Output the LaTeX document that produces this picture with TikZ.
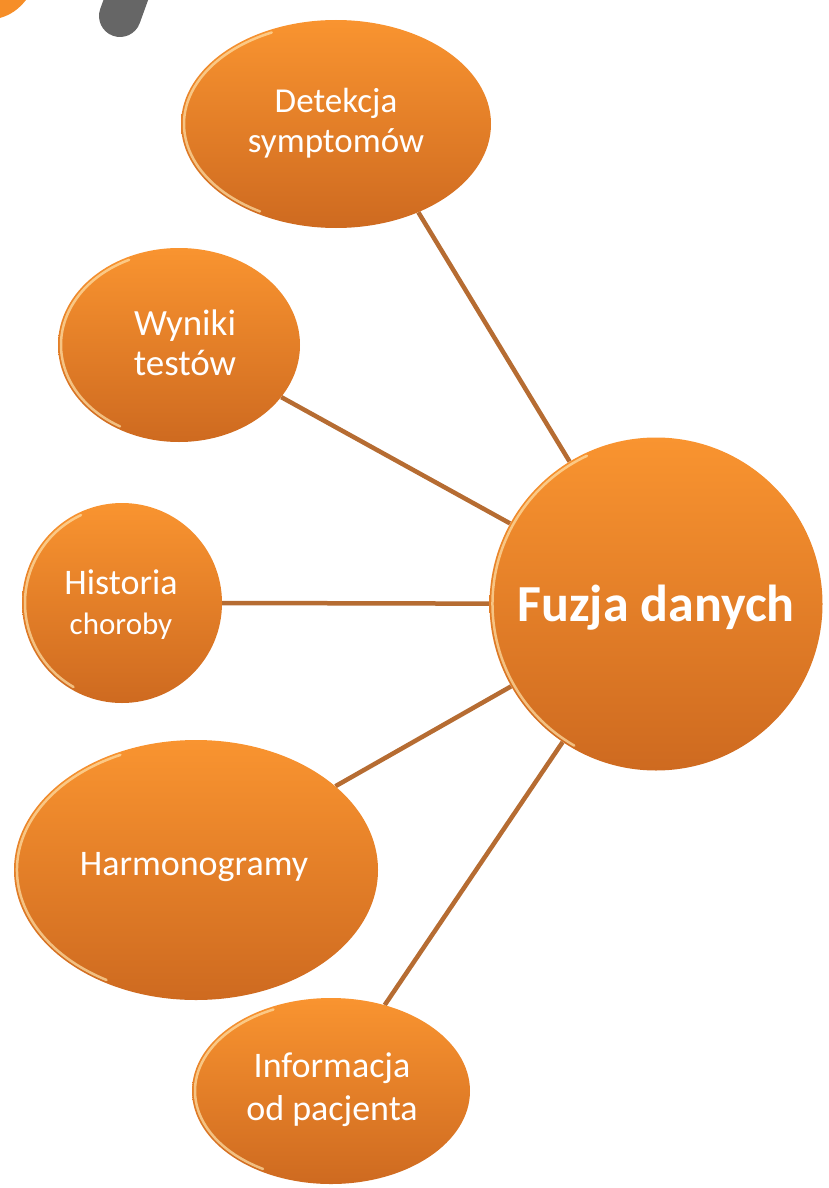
\documentclass[tikz,border=0pt]{standalone}
\usepackage{fontspec}
\setmainfont{Carlito}
\usetikzlibrary{shapes.geometric,backgrounds}
\definecolor{orTop}{RGB}{249,148,48}
\definecolor{orBot}{RGB}{206,106,32}
\definecolor{linkcol}{RGB}{182,108,50}
\definecolor{hilite}{RGB}{255,226,170}
\definecolor{greylogo}{RGB}{102,102,102}
\definecolor{orLogo}{RGB}{246,142,40}
\tikzset{
  bubble/.style={ellipse, inner sep=0pt, top color=orTop, bottom color=orBot, draw=none},
  btext/.style={text=white, align=center, inner sep=0pt},
  linkline/.style={draw=linkcol, line width=4.5pt},
  gloss/.style={draw=hilite, line width=2.5pt, line cap=round, opacity=0.7}
}
\newcommand{\GlossArc}[4]{%
  \draw[gloss] ([shift={(#1,#2)}]120:{#3-3} and {#4-3}) arc[start angle=120, end angle=245, x radius=#3-3, y radius=#4-3];}
\begin{document}
\begin{tikzpicture}[x=1pt,y=-1pt]
\useasboundingbox (0,0) rectangle (828,1188);
\clip (0,0) rectangle (828,1188);
% partial logo at the top left
\fill[orLogo] (0,0) -- (26,0) .. controls (18,10) and (10,15) .. (0,18) -- cycle;
\draw[greylogo, line width=42pt, line cap=round] (120,16) -- (140.4,-40.4);
% bubbles
\node[bubble, minimum width=310pt, minimum height=208pt] (det) at (336,124) {};
\node[bubble, minimum width=242pt, minimum height=194pt] (wyn) at (179,345) {};
\node[bubble, minimum width=200pt, minimum height=200pt] (his) at (122,603) {};
\node[bubble, minimum width=333pt, minimum height=333pt] (fuz) at (656,604) {};
\node[bubble, minimum width=364pt, minimum height=260pt] (har) at (196,870) {};
\node[bubble, minimum width=278pt, minimum height=186pt] (inf) at (331,1091) {};
% glossy rims
\GlossArc{336}{124}{155}{104}
\GlossArc{179}{345}{121}{97}
\GlossArc{122}{603}{100}{100}
\GlossArc{656}{604}{166.5}{166.5}
\GlossArc{196}{870}{182}{130}
\GlossArc{331}{1091}{139}{93}
% texts
\node[btext, font=\fontsize{35}{40}\selectfont] (det-t) at (336,123) {Detekcja\\symptomów};
\node[btext, font=\fontsize{37}{40}\selectfont] (wyn-t) at (185,343) {Wyniki\\testów};
\node[btext, font=\fontsize{36}{40}\selectfont] (his-t) at (121,605) {Historia\\\fontsize{31}{36}\selectfont choroby};
\node[btext, font=\bfseries\fontsize{52}{60}\selectfont] (fuz-t) at (656,608) {Fuzja danych};
\node[btext, font=\fontsize{36}{40}\selectfont] (har-t) at (194,867) {Harmonogramy};
\node[btext, font=\fontsize{36}{43}\selectfont] (inf-t) at (332,1090) {Informacja\\od pacjenta};
% connectors
\begin{pgfonlayer}{background}
\draw[linkline] (fuz) -- (det.-47);
\draw[linkline] (fuz) -- (wyn.-27);
\draw[linkline] (fuz) -- (his.east);
\draw[linkline] (fuz) -- (har.31);
\draw[linkline] (fuz) -- (inf.58);
\end{pgfonlayer}
\end{tikzpicture}
\end{document}
